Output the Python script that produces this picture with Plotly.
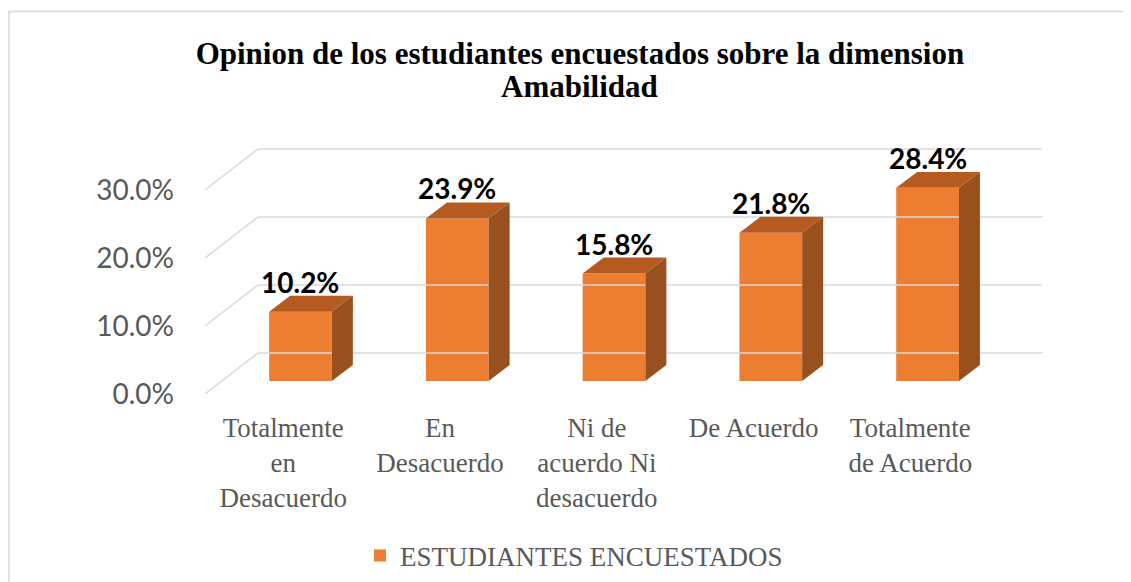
import plotly.graph_objects as go

categories = ["Totalmente<br>en<br>Desacuerdo", "En<br>Desacuerdo", "Ni de<br>acuerdo Ni<br>desacuerdo",
              "De Acuerdo", "Totalmente<br>de Acuerdo"]
values = [10.2, 23.9, 15.8, 21.8, 28.4]
grid_levels = [0, 10, 20, 30]
tick_labels = ["0.0%", "10.0%", "20.0%", "30.0%"]
series_name = "ESTUDIANTES ENCUESTADOS"
title_line1 = "Opinion de los estudiantes encuestados sobre la dimension"
title_line2 = "Amabilidad"

FRONT = "#ED7D31"
TOP = "#B55B22"
SIDE = "#99501F"
GRID = "#D9D9D9"

# 3D perspective offsets (in axis units)
half_w = 0.2
dx, dy = 0.134, 2.35              # bar depth
wall_dx, wall_dy = -0.271, 4.12   # back wall start relative to bar front plane
front_dx, front_dy = -0.609, -1.91
wall_right = 4.73
label_dx = -0.11                  # category labels sit on the front plane

fig = go.Figure()

# gridlines: back wall + diagonal side wall
for g in grid_levels:
    fig.add_trace(go.Scatter(x=[front_dx, wall_dx, wall_right],
                             y=[g + front_dy, g + wall_dy, g + wall_dy],
                             mode="lines", line=dict(color=GRID, width=1.5),
                             hoverinfo="skip", showlegend=False))

xs = list(range(len(values)))
fig.add_trace(go.Bar(x=xs, y=values, width=2 * half_w, marker=dict(color=FRONT, line=dict(width=0)),
                     name=series_name, showlegend=True))

for c, v in zip(xs, values):
    # top face
    fig.add_trace(go.Scatter(x=[c - half_w, c + half_w, c + half_w + dx, c - half_w + dx, c - half_w],
                             y=[v, v, v + dy, v + dy, v], fill="toself", fillcolor=TOP,
                             mode="lines", line=dict(width=0, color=TOP), hoverinfo="skip", showlegend=False))
    # side face
    fig.add_trace(go.Scatter(x=[c + half_w, c + half_w, c + half_w + dx, c + half_w + dx, c + half_w],
                             y=[0, v, v + dy, dy, 0], fill="toself", fillcolor=SIDE,
                             mode="lines", line=dict(width=0, color=SIDE), hoverinfo="skip", showlegend=False))
    fig.add_annotation(x=c, y=v + dy, text=f"<b>{v:.1f}%</b>", showarrow=False,
                       yanchor="middle", yshift=14,
                       font=dict(family="Lato", size=28, color="black"))

# second title line
fig.add_annotation(x=0.447, y=1.204, xref="paper", yref="paper", text=f"<b>{title_line2}</b>",
                   showarrow=False, xanchor="center", yanchor="middle",
                   font=dict(family="Liberation Serif", size=31, color="black"))

fig.update_layout(
    width=1123, height=574, autosize=False,
    margin=dict(l=192, r=81, t=132, b=182, autoexpand=False),
    paper_bgcolor="white", plot_bgcolor="white",
    title=dict(text=f"<b>{title_line1}</b>",
               x=0.5093, xref="container", xanchor="center",
               y=1 - 45 / 574, yref="container", yanchor="middle",
               font=dict(family="Liberation Serif", size=31, color="black")),
    xaxis=dict(range=[-0.641, 4.781], tickvals=[c + label_dx for c in xs], ticktext=categories,
               showgrid=False, zeroline=False, showline=False, ticks="", ticklabelstandoff=9,
               tickfont=dict(family="Liberation Serif", size=27, color="#595959")),
    yaxis=dict(range=[-2.794, 35.44], tickvals=[g + front_dy for g in grid_levels], ticktext=tick_labels,
               showgrid=False, zeroline=False, showline=False, ticks="", ticklabelstandoff=25,
               tickfont=dict(family="Lato", size=28, color="#595959")),
    legend=dict(orientation="h", x=0.44, xanchor="center", y=-0.6, yanchor="middle",
                font=dict(family="Liberation Serif", size=27, color="#595959"),
                itemwidth=30),
    shapes=[dict(type="rect", xref="paper", yref="paper", x0=-0.2247, x1=1.3, y0=-1.5, y1=1.494,
                 line=dict(color=GRID, width=1.5), fillcolor="rgba(0,0,0,0)", layer="below")],
)

fig.write_html("out.html")
